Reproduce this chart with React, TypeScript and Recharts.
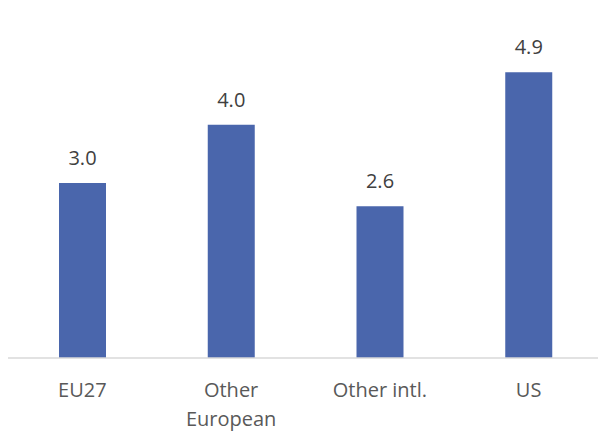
import React from "react";
import { BarChart, Bar, XAxis, YAxis, LabelList } from "recharts";

const categories = ["EU27", "Other\nEuropean", "Other intl.", "US"];
const values = [3.0, 4.0, 2.6, 4.9];

const data = categories.map((c, i) => ({ name: c, value: values[i] }));

const FONT = "'Open Sans', sans-serif";

const Tick = (props: any) => {
  const { x, payload } = props;
  const lines = String(payload.value).split("\n");
  return (
    <g>
      {lines.map((l: string, i: number) => (
        <text
          key={i}
          x={x}
          y={397 + i * 29}
          textAnchor="middle"
          fill="#595959"
          fontSize={20}
          fontFamily={FONT}
        >
          {l}
        </text>
      ))}
    </g>
  );
};

export default function App() {
  return (
    <div
      style={{
        position: "absolute",
        left: 0,
        top: 0,
        width: 598,
        height: 433,
        overflow: "hidden",
        background: "#ffffff",
      }}
    >
      <BarChart
        width={611}
        height={433}
        data={data}
        margin={{ top: 8, right: 8, bottom: 0, left: 8 }}
      >
        <XAxis
          dataKey="name"
          axisLine={{ stroke: "#D9D9D9", strokeWidth: 1.5 }}
          tickLine={false}
          height={75}
          tick={<Tick />}
          interval={0}
        />
        <YAxis hide domain={[0, 6]} />
        <Bar dataKey="value" fill="#4A66AC" barSize={47} isAnimationActive={false}>
          <LabelList
            dataKey="value"
            position="top"
            offset={18}
            formatter={(v: any) => Number(v).toFixed(1)}
            fill="#404040"
            fontSize={20}
            fontFamily={FONT}
          />
        </Bar>
      </BarChart>
    </div>
  );
}
